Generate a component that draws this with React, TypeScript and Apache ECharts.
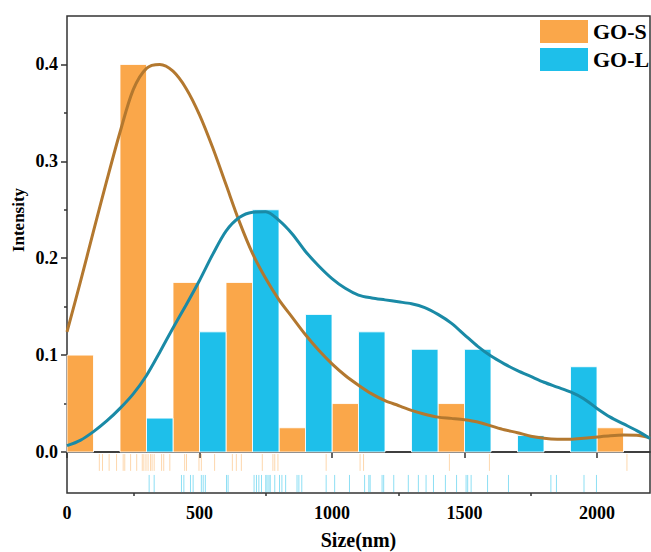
import React, { useEffect, useRef } from "react";
import * as echarts from "echarts";

const binWidth = 100;
const gosBinStart = [0, 200, 400, 600, 800, 1000, 1400, 2000];
const gosValues = [0.1, 0.4, 0.175, 0.175, 0.025, 0.05, 0.05, 0.025];
const golBinStart = [300, 500, 700, 900, 1100, 1300, 1500, 1700, 1900];
const golValues = [0.035, 0.124, 0.25, 0.142, 0.124, 0.106, 0.106, 0.017, 0.088];

const curveX = [0, 50, 100, 150, 200, 250, 300, 350, 400, 450, 500, 550, 600, 650, 700, 750, 800, 850, 900, 950, 1000, 1050, 1100, 1150, 1200, 1250, 1300, 1350, 1400, 1450, 1500, 1550, 1600, 1650, 1700, 1750, 1800, 1850, 1900, 1950, 2000, 2050, 2100, 2150, 2200];
const gosCurveY = [0.124, 0.175, 0.228, 0.28, 0.33, 0.374, 0.396, 0.4, 0.393, 0.375, 0.348, 0.314, 0.276, 0.238, 0.205, 0.179, 0.157, 0.139, 0.121, 0.105, 0.091, 0.079, 0.069, 0.06, 0.053, 0.048, 0.043, 0.039, 0.036, 0.0347, 0.0333, 0.031, 0.027, 0.023, 0.0199, 0.0163, 0.0142, 0.0132, 0.0131, 0.0141, 0.0155, 0.0168, 0.0175, 0.0173, 0.0147];
const golCurveY = [0.0065, 0.012, 0.021, 0.032, 0.045, 0.06, 0.079, 0.103, 0.128, 0.152, 0.177, 0.204, 0.228, 0.242, 0.2475, 0.248, 0.239, 0.225, 0.207, 0.192, 0.179, 0.169, 0.162, 0.159, 0.157, 0.155, 0.153, 0.149, 0.142, 0.133, 0.121, 0.109, 0.099, 0.091, 0.084, 0.078, 0.072, 0.067, 0.062, 0.055, 0.045, 0.036, 0.029, 0.022, 0.014];

const gosRug = [122, 134, 159, 187, 212, 218, 240, 263, 284, 290, 298, 306, 315, 321, 329, 357, 365, 388, 444, 451, 498, 507, 557, 624, 639, 658, 737, 777, 784, 796, 978, 1106, 1119, 1443, 1594, 2113];
const golRug = [310, 329, 432, 441, 466, 476, 507, 514, 522, 602, 608, 706, 715, 724, 734, 750, 755, 762, 767, 784, 802, 811, 825, 868, 875, 886, 978, 1010, 1066, 1123, 1139, 1144, 1189, 1195, 1233, 1288, 1326, 1355, 1383, 1428, 1470, 1506, 1512, 1525, 1587, 1666, 1826, 1847, 1951, 1998];

const xMajor = [0, 500, 1000, 1500, 2000];
const xMinor = [250, 750, 1250, 1750];
const yMajor = [0, 0.1, 0.2, 0.3, 0.4];
const yMinor = [0.05, 0.15, 0.25, 0.35];

const FONT = "'Liberation Serif', 'Times New Roman', serif";
const ORANGE = "#FAA74A";
const BLUE = "#1EBFEA";
const BROWN = "#B3782F";
const TEAL = "#1A8AA6";
const AXIS = "#333333";

function barSeries(name: string, starts: number[], values: number[], color: string) {
  return {
    name,
    type: "custom",
    xAxisIndex: 0,
    yAxisIndex: 0,
    itemStyle: { color },
    encode: { x: [0, 1], y: 2 },
    data: starts.map((s, i) => [s, s + binWidth, values[i]]),
    renderItem: (params: any, api: any) => {
      const p0 = api.coord([api.value(0), api.value(2)]);
      const p1 = api.coord([api.value(1), 0]);
      return {
        type: "rect",
        shape: { x: p0[0], y: p0[1], width: p1[0] - p0[0], height: p1[1] - p0[1] },
        style: { fill: color, stroke: "rgba(255,255,255,0.85)", lineWidth: 1 },
      };
    },
    z: 2,
  };
}

function rugSeries(name: string, vals: number[], f0: number, f1: number, color: string) {
  return {
    name,
    type: "custom",
    xAxisIndex: 1,
    yAxisIndex: 2,
    data: vals.map((v) => [v, f0]),
    renderItem: (params: any, api: any) => {
      const a = api.coord([api.value(0), f0]);
      const b = api.coord([api.value(0), f1]);
      return {
        type: "line",
        shape: { x1: a[0], y1: a[1], x2: b[0], y2: b[1] },
        style: { stroke: color, lineWidth: 1 },
      };
    },
    z: 2,
  };
}

function lineSeries(name: string, xs: number[], ys: number[], color: string) {
  return {
    name,
    type: "line",
    xAxisIndex: 0,
    yAxisIndex: 0,
    smooth: 0.3,
    showSymbol: false,
    symbol: "none",
    lineStyle: { color, width: 3 },
    data: xs.map((x, i) => [x, ys[i]]),
    z: 4,
  };
}

export default function App() {
  const ref = useRef<HTMLDivElement>(null);
  useEffect(() => {
    if (!ref.current) return;
    const chart = echarts.init(ref.current, null, { renderer: "svg" });
    const tickStyle = { color: AXIS, width: 1.5 };
    const option: any = {
      animation: false,
      backgroundColor: "#ffffff",
      legend: {
        orient: "vertical",
        left: 540,
        top: 20,
        padding: 0,
        itemGap: 5,
        itemWidth: 48,
        itemHeight: 23,
        selectedMode: false,
        data: [
          { name: "GO-S", icon: "rect", itemStyle: { color: ORANGE } },
          { name: "GO-L", icon: "rect", itemStyle: { color: BLUE } },
        ],
        textStyle: { fontFamily: FONT, fontSize: 22, fontWeight: "bold", color: "#000" },
      },
      grid: [
        { left: 67, right: 1, top: 16, height: 436, show: true, borderColor: AXIS, borderWidth: 1.5, outerBoundsMode: "none" },
        { left: 67, right: 1, top: 452, height: 41, show: true, borderColor: AXIS, borderWidth: 1.5, outerBoundsMode: "none" },
      ],
      xAxis: [
        {
          gridIndex: 0, type: "value", min: 0, max: 2200,
          axisLine: { show: false }, axisTick: { show: false }, axisLabel: { show: false }, splitLine: { show: false },
        },
        {
          gridIndex: 1, type: "value", min: 0, max: 2200, position: "bottom",
          axisLine: { show: false },
          axisTick: { show: true, inside: false, length: 6, customValues: xMajor, lineStyle: tickStyle },
          axisLabel: {
            show: true, customValues: xMajor, margin: 11,
            formatter: (v: number) => String(v),
            fontFamily: FONT, fontSize: 18, fontWeight: "bold", color: "#000",
          },
          splitLine: { show: false },
          name: "Size(nm)",
          nameLocation: "middle",
          nameGap: 37,
          nameTextStyle: { fontFamily: FONT, fontSize: 20, fontWeight: "bold", color: "#000" },
        },
        {
          gridIndex: 1, type: "value", min: 0, max: 2200, position: "bottom",
          axisLine: { show: false },
          axisTick: { show: true, inside: false, length: 3, customValues: xMinor, lineStyle: tickStyle },
          axisLabel: { show: false },
          splitLine: { show: false },
        },
      ],
      yAxis: [
        {
          gridIndex: 0, type: "value", min: 0, max: 0.45, position: "left",
          axisLine: { show: false },
          axisTick: { show: true, inside: false, length: 6, customValues: yMajor, lineStyle: tickStyle },
          axisLabel: {
            show: true, customValues: yMajor, margin: 9,
            formatter: (v: number) => v.toFixed(1),
            fontFamily: FONT, fontSize: 18, fontWeight: "bold", color: "#000",
          },
          splitLine: { show: false },
        },
        {
          gridIndex: 0, type: "value", min: 0, max: 0.45, position: "left", offset: 0,
          axisLine: { show: false },
          axisTick: { show: true, inside: false, length: 3, customValues: yMinor, lineStyle: tickStyle },
          axisLabel: { show: false },
          splitLine: { show: false },
        },
        {
          gridIndex: 1, type: "value", min: 0, max: 1, inverse: true, show: false,
        },
      ],
      graphic: [
        {
          type: "text",
          x: 18,
          y: 220,
          rotation: Math.PI / 2,
          style: {
            text: "Intensity",
            fontFamily: FONT,
            fontSize: 17,
            fontWeight: "bold",
            fill: "#000",
            textAlign: "center",
            textVerticalAlign: "middle",
          },
        },
      ],
      series: [
        barSeries("GO-S", gosBinStart, gosValues, ORANGE),
        barSeries("GO-L", golBinStart, golValues, BLUE),
        lineSeries("GO-S fit", curveX, gosCurveY, BROWN),
        lineSeries("GO-L fit", curveX, golCurveY, TEAL),
        rugSeries("GO-S rug", gosRug, 0.05, 0.46, "rgba(250,167,74,0.45)"),
        rugSeries("GO-L rug", golRug, 0.56, 0.98, "rgba(30,191,234,0.5)"),
      ],
    };
    chart.setOption(option);
    return () => chart.dispose();
  }, []);
  return (
    <div
      ref={ref}
      style={{ position: "absolute", left: 0, top: 0, width: 651, height: 552 }}
    />
  );
}
